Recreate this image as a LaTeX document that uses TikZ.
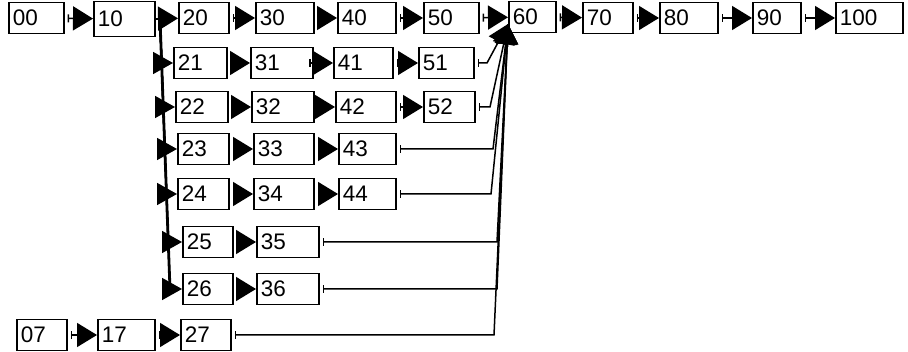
\documentclass[tikz,border=0pt]{standalone}
\usepackage{fontspec}
\setmainfont{Liberation Sans}
\usetikzlibrary{arrows.meta}
\tikzset{
  bx/.style={draw, line width=1.6pt, inner xsep=4pt, inner ysep=0pt, anchor=west,
    minimum height=31pt, align=left, font=\fontsize{22.5}{26}\selectfont,
    text height=16pt, text depth=0pt},
  flow/.style={line width=1.5pt, shorten <=3pt,
    {Bar[width=8pt]}-{Triangle[length=20pt,width=24pt]}},
  fan/.style={line width=1.7pt, -{Triangle[length=20pt,width=22pt]}},
  merge/.style={line width=1.5pt, shorten <=3pt,
    {Bar[width=8pt]}-{Triangle[length=20pt,width=22pt]}}
}
% \bx{name}{left x}{right x}{centre y}{label}
\newcommand\bx[5]{\pgfmathsetmacro\bw{#3-#2-8}%
  \node[bx, text width=\bw pt] (#1) at (#2,#4) {#5};}
\begin{document}
\begin{tikzpicture}[x=1pt,y=-1pt]
\useasboundingbox (0,0) rectangle (908,352);
% top row
\bx{b00}{8}{63}{18}{00}
\node[bx, text width=53pt, minimum height=35pt] (b10) at (93,19) {10};
\bx{b20}{178}{228}{18}{20}
\bx{b30}{255}{313}{18}{30}
\bx{b40}{337}{395}{18}{40}
\bx{b50}{423}{478}{18}{50}
\bx{b60}{508}{555}{17}{60}
\bx{b70}{582}{632}{18}{70}
\bx{b80}{659}{717}{18}{80}
\bx{b90}{752}{800}{18}{90}
\bx{b100}{835}{902}{18}{100}
% branch rows
\bx{b21}{173}{226}{63}{21}
\bx{b31}{250}{312}{63}{31}
\bx{b41}{333}{392}{63}{41}
\bx{b51}{418}{473}{63}{51}
\bx{b22}{175}{227}{107}{22}
\bx{b32}{251}{313}{107}{32}
\bx{b42}{335}{395}{107}{42}
\bx{b52}{423}{474}{107}{52}
\bx{b23}{177}{228}{149}{23}
\bx{b33}{253}{313}{149}{33}
\bx{b43}{338}{395}{149}{43}
\bx{b24}{177}{228}{194}{24}
\bx{b34}{253}{313}{194}{34}
\bx{b44}{338}{395}{194}{44}
\bx{b25}{182}{232}{242}{25}
\bx{b35}{256}{318}{242}{35}
\bx{b26}{182}{232}{289}{26}
\bx{b36}{256}{318}{289}{36}
% bottom row
\bx{b07}{16}{66}{335}{07}
\bx{b17}{97}{154}{335}{17}
\bx{b27}{180}{230}{335}{27}

% main chain
\foreach \a/\b in {b00/b10,b10/b20,b20/b30,b30/b40,b40/b50,b50/b60,
                   b60/b70,b70/b80,b80/b90,b90/b100,
                   b21/b31,b31/b41,b41/b51,b22/b32,b32/b42,b42/b52,
                   b23/b33,b33/b43,b24/b34,b34/b44,b25/b35,b26/b36,
                   b07/b17,b17/b27}
  \draw[flow] (\a) -- (\b);

% fan-out from 10 along a shared trunk
\coordinate (t0) at (160,19);
\coordinate (t1) at (170,289);
\draw[line width=2.8pt] (t0) -- (t1);
\foreach \n/\tx/\ty in {b21/161.6/63,b22/163.3/107,b23/164.8/149,
                        b24/166.5/194,b25/168.3/242,b26/170/289}
  \draw[fan] (b10.east) -- (t0) -- (\tx,\ty) -- (\n.west);

% joins into 60
\coordinate (t60) at ([yshift=-7pt]b60.west);
\foreach \n/\jx in {b51/487,b52/490,b43/493,b44/491,b35/497,b36/497,b27/494}{
  \coordinate (jx) at (\jx,0);
  \draw[merge] (\n.east) -- (\n.east -| jx) -- (t60);
}
\end{tikzpicture}
\end{document}
